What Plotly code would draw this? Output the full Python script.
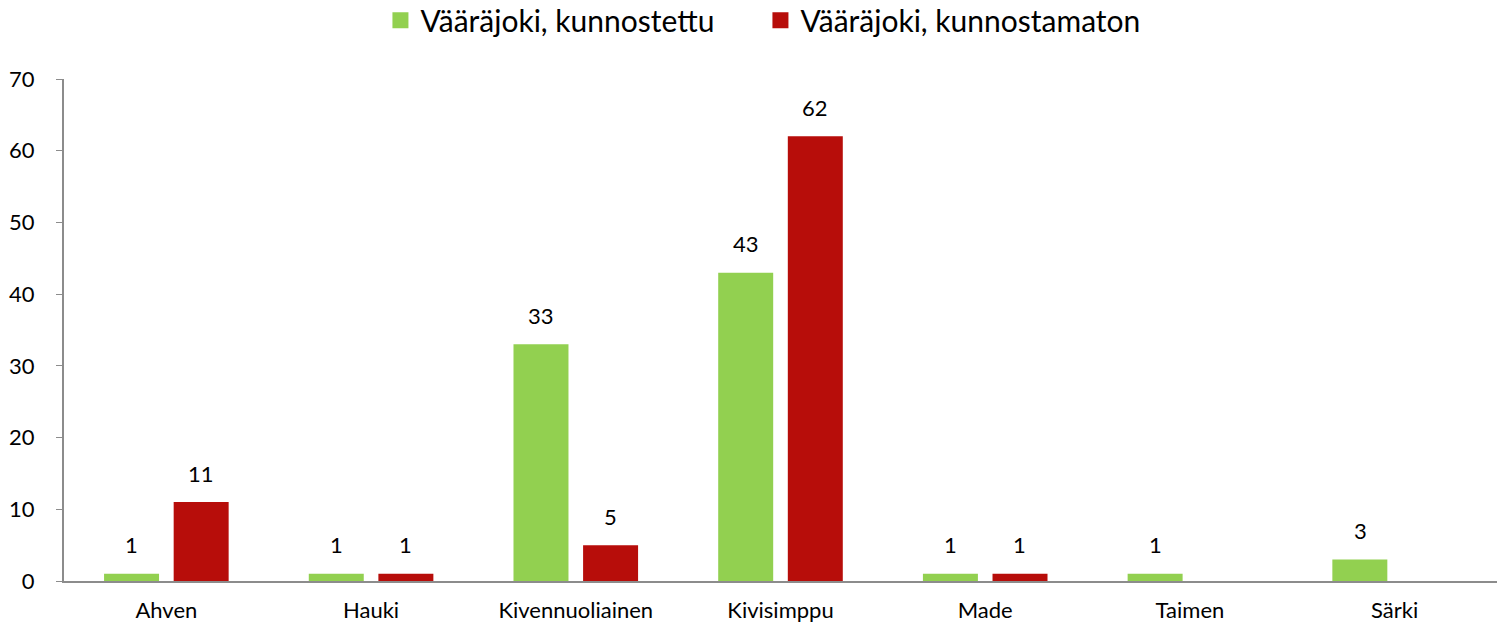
import plotly.graph_objects as go

categories = ["Ahven", "Hauki", "Kivennuoliainen", "Kivisimppu", "Made", "Taimen", "Särki"]
kunnostettu = [1, 1, 33, 43, 1, 1, 3]
kunnostamaton = [11, 1, 5, 62, 1, None, None]
series_names = ["Vääräjoki, kunnostettu", "Vääräjoki, kunnostamaton"]
y_ticks = [0, 10, 20, 30, 40, 50, 60, 70]

FONT = "Lato, 'Open Sans', sans-serif"
colors = ["#92d050", "#b70d0a"]
offsets = [-34.5, 34.5]

fig = go.Figure()
for name, vals, col, off in [(series_names[0], kunnostettu, colors[0], offsets[0]),
                             (series_names[1], kunnostamaton, colors[1], offsets[1])]:
    fig.add_trace(go.Bar(
        x=categories, y=vals, name=name, marker=dict(color=col, line=dict(width=0)),
        showlegend=False,
    ))
    for c, v in zip(categories, vals):
        if v is None:
            continue
        fig.add_annotation(x=c, y=v, xref="x", yref="y", text=str(v), showarrow=False,
                           xshift=off, yshift=29, yanchor="middle",
                           font=dict(size=22, family=FONT, color="#000000"))
    # legend proxy
    fig.add_trace(go.Scatter(x=[None], y=[None], mode="markers", name=name,
                             marker=dict(symbol="square", size=22, color=col)))

fig.update_layout(
    width=1504, height=630,
    margin=dict(l=64, r=7, t=79, b=49),
    paper_bgcolor="white", plot_bgcolor="white",
    barmode="group", bargap=0.32, bargroupgap=0.21,
    font=dict(family=FONT, size=22, color="#000000"),
    showlegend=True,
    legend=dict(orientation="h", x=0.486, xanchor="center", y=0.968, yanchor="middle",
                yref="container", font=dict(size=30, family=FONT), itemwidth=30,
                entrywidth=335, traceorder="normal", bgcolor="rgba(0,0,0,0)"),
)
fig.update_xaxes(showline=True, linecolor="#8c8c8c", linewidth=2, ticks="",
                 tickfont=dict(size=22, family=FONT), showgrid=False,
                 ticklabelstandoff=9, automargin=False)
fig.update_yaxes(range=[0, 70], tickvals=y_ticks, showline=True, linecolor="#8c8c8c",
                 linewidth=2, ticks="outside", ticklen=6, tickcolor="#8c8c8c",
                 tickfont=dict(size=22, family=FONT), showgrid=False, zeroline=False,
                 ticklabelstandoff=17, automargin=False)

fig.write_html("out.html", config={"displayModeBar": False},
               post_script="document.body.style.margin='0';")
